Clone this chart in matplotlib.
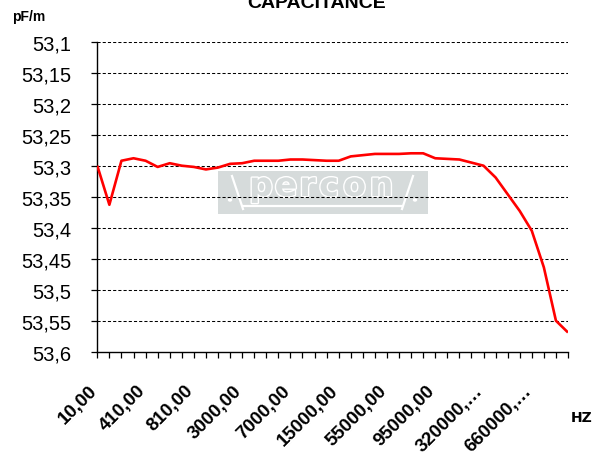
import matplotlib
matplotlib.use("Agg")
import matplotlib.pyplot as plt
from matplotlib.patches import Rectangle, Circle
from matplotlib.lines import Line2D
import matplotlib.patheffects as pe
import matplotlib.transforms as mtransforms

# ---------------- data ----------------
freqs = [10, 110, 210, 310, 410, 510, 610, 710, 810, 910,
         1000, 2000, 3000, 4000, 5000, 6000, 7000, 8000, 9000, 10000,
         15000, 25000, 35000, 45000, 55000, 65000, 75000, 85000, 95000, 100000,
         150000, 200000, 320000, 405000, 490000, 575000, 660000, 745000, 830000, 1000000]
capacitance = [53.300, 53.363, 53.292, 53.288, 53.292, 53.302, 53.296, 53.300, 53.302, 53.306,
               53.303, 53.297, 53.296, 53.292, 53.292, 53.292, 53.290, 53.290, 53.291, 53.292,
               53.292, 53.285, 53.283, 53.281, 53.281, 53.281, 53.280, 53.280, 53.288, 53.289,
               53.290, 53.295, 53.300, 53.319, 53.346, 53.373, 53.405, 53.464, 53.550, 53.569]
y_ticks = [53.1, 53.15, 53.2, 53.25, 53.3, 53.35, 53.4, 53.45, 53.5, 53.55, 53.6]
title = "CAPACITANCE"
y_unit = "pF/m"
x_unit = "HZ"
label_every = 4

# ---------------- layout ----------------
W, H = 594, 464
fig = plt.figure(figsize=(W / 100, H / 100), dpi=100)
fig.patch.set_facecolor("white")

def fx(x):
    return x / W

def fy(y):
    return 1 - y / H

ax_l, ax_r, ax_t, ax_b = 97.3, 568.0, 42.7, 352.7
ax = fig.add_axes([fx(ax_l), fy(ax_b), (ax_r - ax_l) / W, (ax_b - ax_t) / H])

xs = list(range(len(freqs)))
ax.plot(xs, capacitance, color="#ff0000", lw=1.9, zorder=3,
        solid_joinstyle="round", solid_capstyle="butt")

ax.set_xlim(0, len(freqs) - 1)
ax.set_ylim(y_ticks[-1], y_ticks[0])

# gridlines
for v in y_ticks[:-1]:
    ax.axhline(v, color="black", lw=0.75, ls=(0, (3, 2)), zorder=1)

# y axis
ax.set_yticks(y_ticks)
ax.set_yticklabels([f"{v:g}".replace(".", ",") for v in y_ticks],
                   fontsize=14.5, family="Liberation Sans")
ax.tick_params(axis="y", direction="out", length=4, width=0.9, pad=14.5,
               color="black")

# x axis
def fmt(f):
    s = f"{f:.2f}".replace(".", ",")
    if len(s) > 8:
        s = s[:7] + "\u2026"
    return s

ax.set_xticks(xs)
ax.set_xticklabels([fmt(f) if i % label_every == 0 else "" for i, f in enumerate(freqs)],
                   rotation=45, ha="right", va="top", fontsize=13.5,
                   fontweight="bold", family="Liberation Sans")
ax.tick_params(axis="x", direction="out", length=4, width=0.9, pad=17.5,
               color="black")
shift = mtransforms.ScaledTranslation(3 / 100, 0, fig.dpi_scale_trans)
for lab in ax.get_xticklabels():
    lab.set_transform(lab.get_transform() + shift)

for s in ("top", "right"):
    ax.spines[s].set_visible(False)
for s in ("left", "bottom"):
    ax.spines[s].set_linewidth(1.0)
    ax.spines[s].set_color("black")

# texts
fig.text(fx(317), fy(8), title, ha="center", va="baseline", fontsize=14,
         fontweight="bold", family="Liberation Sans")
fig.text(fx(12), fy(21), y_unit, ha="left", va="baseline", fontsize=10,
         fontweight="bold", family="Liberation Sans")
fig.text(fx(571), fy(421.5), x_unit, ha="left", va="baseline", fontsize=10,
         fontweight="bold", family="DejaVu Sans")

# watermark logo (decorative)
box_col = "#d6dbdb"
tr = fig.transFigure
ax.add_patch(Rectangle((fx(218), fy(214.5)), (428 - 218) / W, (214.5 - 172) / H,
                       transform=tr, facecolor=box_col, edgecolor="none", zorder=0.2))
for (x0, y0, x1, y1) in [(232, 177, 243, 210), (413, 177, 402, 210), (243, 207, 402, 207)]:
    ax.add_line(Line2D([fx(x0), fx(x1)], [fy(y0), fy(y1)], transform=tr,
                       color="white", lw=1.6, zorder=0.25))
for cx in (230, 415):
    ax.add_patch(Circle((fx(cx), fy(201)), 2.2 / W, transform=tr,
                        facecolor="white", edgecolor="none", zorder=0.25))
for ch, cx in zip("percon", [261, 286, 307.5, 329, 354.5, 381.5]):
    ax.text(fx(cx), fy(197), ch, transform=tr, ha="center", va="baseline",
            fontsize=24, fontweight="bold", family="DejaVu Sans", color=box_col,
            zorder=0.3,
            path_effects=[pe.withStroke(linewidth=2, foreground="white")])

fig.savefig("out.png", dpi=100, facecolor="white")
